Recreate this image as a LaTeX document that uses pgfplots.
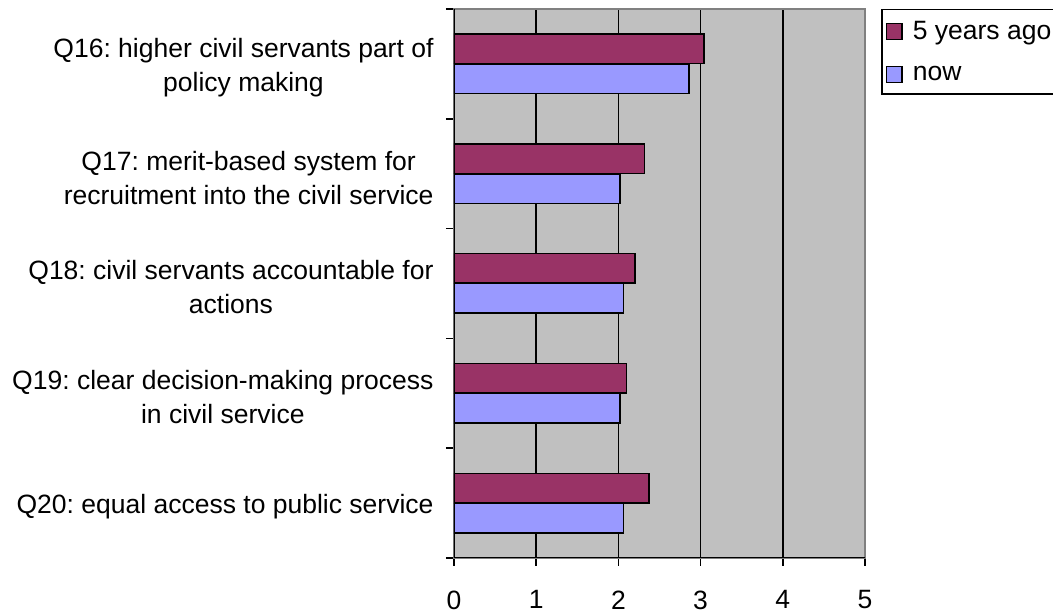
\documentclass[border=0pt]{standalone}
\usepackage{fontspec}
\setmainfont{Liberation Sans}
\usepackage{pgfplots}
\pgfplotsset{compat=1.18}
\frenchspacing
\definecolor{plum}{HTML}{993366}
\definecolor{peri}{HTML}{9999FF}
\definecolor{bg}{HTML}{C0C0C0}
\definecolor{bord}{HTML}{808080}
\begin{document}
\begin{tikzpicture}
\path[use as bounding box] (-454pt,-57pt) rectangle (599pt,558pt);
\begin{axis}[
  at={(0pt,0pt)}, anchor=south west,
  scale only axis, width=411pt, height=549pt,
  xmin=0, xmax=5, ymin=-0.5, ymax=4.5,
  xbar, bar width=29.5pt,
  xtick={0,...,5},
  ytick={-0.5,0.5,1.5,2.5,3.5,4.5},
  yticklabels={},
  extra y ticks={0,1,2,3,4},
  extra y tick labels={{Q20: equal access to public service},
    {Q19: clear decision-making process\\in civil service},
    {Q18: civil servants accountable for\\actions},
    {Q17: merit-based system for\\recruitment into the civil service},
    {Q16: higher civil servants part of\\policy making}},
  extra y tick style={major tick length=0pt},
  yticklabel style={align=center, font=\fontsize{26.5}{34}\selectfont, xshift=-17pt, yshift=-4pt},
  xticklabel style={font=\fontsize{26.5}{30}\selectfont, yshift=-21pt},
  /pgf/number format/assume math mode=true,
  tick align=outside, xtick pos=left, ytick pos=left,
  major tick length=8pt,
  axis background/.style={fill=bg},
  xmajorgrids, major grid style={black, line width=1.7pt},
  axis line style={draw=bord, line width=1.6pt},
  tick style={black, line width=1.6pt},
  legend style={at={(1.039,1)}, anchor=north west, draw=black, line width=1.5pt,
    font=\fontsize{26.5}{30}\selectfont, inner xsep=4pt, inner ysep=6pt, row sep=13pt,
    nodes={inner xsep=4pt, inner ysep=6pt}},
  legend cell align=left,
  legend image code/.code={\draw[#1,/tikz/.cd, draw=black, line width=1.6pt] (2.5pt,-8pt) rectangle (18pt,8pt);
    \path (24pt,0pt);},
]
\addplot[fill=plum, draw=black, line width=1.5pt, bar shift=15pt] coordinates {(2.37,0) (2.10,1) (2.20,2) (2.32,3) (3.04,4)};
\addplot[fill=peri, draw=black, line width=1.5pt, bar shift=-15pt] coordinates {(2.06,0) (2.02,1) (2.06,2) (2.02,3) (2.86,4)};
\legend{5 years ago, now}
\draw[black, line width=1.6pt] (rel axis cs:0,1) -- (rel axis cs:0,0) -- (rel axis cs:1,0);
\end{axis}
\end{tikzpicture}
\end{document}
